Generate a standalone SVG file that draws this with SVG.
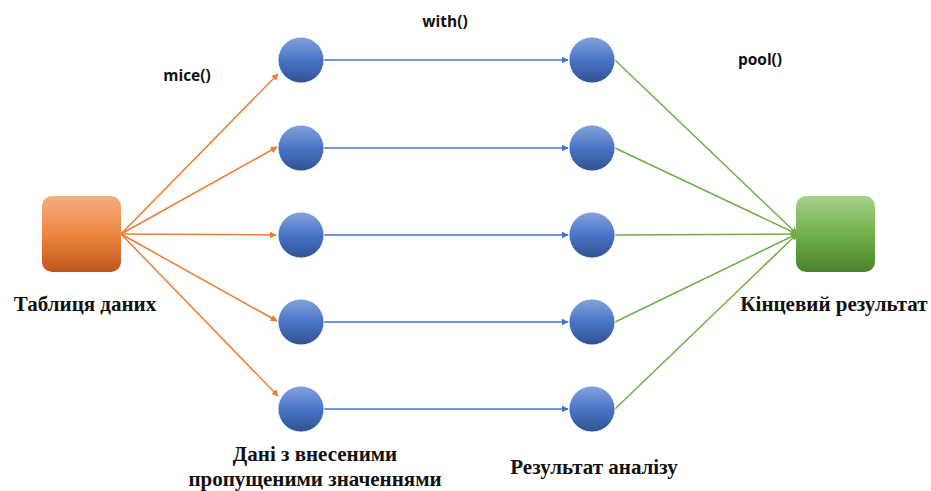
<svg xmlns="http://www.w3.org/2000/svg" width="931" height="491" viewBox="0 0 931 491">
  <defs>
    <linearGradient id="gOrange" x1="0" y1="0" x2="0" y2="1">
      <stop offset="0" stop-color="#F4AE80"/>
      <stop offset="0.5" stop-color="#EE8640"/>
      <stop offset="1" stop-color="#BE571B"/>
    </linearGradient>
    <linearGradient id="gBlue" x1="0" y1="0" x2="0" y2="1">
      <stop offset="0" stop-color="#84A3DC"/>
      <stop offset="0.5" stop-color="#4A74C6"/>
      <stop offset="1" stop-color="#2E5291"/>
    </linearGradient>
    <linearGradient id="gGreen" x1="0" y1="0" x2="0" y2="1">
      <stop offset="0" stop-color="#A6D28D"/>
      <stop offset="0.5" stop-color="#72B04A"/>
      <stop offset="1" stop-color="#4A832D"/>
    </linearGradient>
    <marker id="aOrange" viewBox="0 0 10 10" refX="9" refY="5" markerWidth="7" markerHeight="7" orient="auto" markerUnits="userSpaceOnUse">
      <path d="M0,0 L10,5 L0,10 z" fill="#ED7D31"/>
    </marker>
    <marker id="aBlue" viewBox="0 0 10 10" refX="9" refY="5" markerWidth="7" markerHeight="7" orient="auto" markerUnits="userSpaceOnUse">
      <path d="M0,0 L10,5 L0,10 z" fill="#4472C4"/>
    </marker>
    <marker id="aGreen" viewBox="0 0 10 10" refX="9" refY="5" markerWidth="7" markerHeight="7" orient="auto" markerUnits="userSpaceOnUse">
      <path d="M0,0 L10,5 L0,10 z" fill="#70AD47"/>
    </marker>
  </defs>
  <style>
    .eo { stroke: #ED7D31; stroke-width: 1.5; fill: none; marker-end: url(#aOrange); }
    .eb { stroke: #4472C4; stroke-width: 1.5; fill: none; marker-end: url(#aBlue); }
    .eg { stroke: #70AD47; stroke-width: 1.5; fill: none; marker-end: url(#aGreen); }
    .dot { fill: url(#gBlue); stroke: #ffffff; stroke-width: 0.8; }
    .fn { font-weight: bold; font-size: 15.5px; fill: #111; }
    .lbl { font-weight: bold; font-size: 21px; fill: #111; }
  </style>

  <rect width="931" height="491" fill="#ffffff"/>

  <g id="connectors">
    <!-- source table to imputed data sets -->
    <line class="eo" x1="121" y1="234" x2="278" y2="74"/>
    <line class="eo" x1="121" y1="234" x2="277" y2="147"/>
    <line class="eo" x1="121" y1="234" x2="276" y2="235"/>
    <line class="eo" x1="121" y1="234" x2="277" y2="321"/>
    <line class="eo" x1="121" y1="234" x2="278" y2="396"/>
    <!-- analysis on each imputed set -->
    <line class="eb" x1="324" y1="60" x2="568" y2="60"/>
    <line class="eb" x1="324" y1="148" x2="568" y2="148"/>
    <line class="eb" x1="324" y1="235" x2="568" y2="235"/>
    <line class="eb" x1="324" y1="322" x2="568" y2="322"/>
    <line class="eb" x1="324" y1="409" x2="568" y2="409"/>
    <!-- pooling into the final result -->
    <line class="eg" x1="615" y1="60" x2="797" y2="234"/>
    <line class="eg" x1="615" y1="148" x2="797" y2="234"/>
    <line class="eg" x1="615" y1="235" x2="797" y2="234"/>
    <line class="eg" x1="615" y1="322" x2="797" y2="234"/>
    <line class="eg" x1="615" y1="409" x2="797" y2="234"/>
  </g>

  <g id="table">
    <rect x="42" y="196" width="79" height="76" rx="10" fill="url(#gOrange)"/>
  </g>

  <g id="imputed">
    <circle class="dot" cx="301" cy="60" r="23"/>
    <circle class="dot" cx="301" cy="148" r="23"/>
    <circle class="dot" cx="301" cy="235" r="23"/>
    <circle class="dot" cx="301" cy="322" r="23"/>
    <circle class="dot" cx="301" cy="409" r="23"/>
  </g>

  <g id="analysis">
    <circle class="dot" cx="592" cy="60" r="23"/>
    <circle class="dot" cx="592" cy="148" r="23"/>
    <circle class="dot" cx="592" cy="235" r="23"/>
    <circle class="dot" cx="592" cy="322" r="23"/>
    <circle class="dot" cx="592" cy="409" r="23"/>
  </g>

  <g id="result">
    <rect x="796" y="196" width="79" height="76" rx="10" fill="url(#gGreen)"/>
  </g>

  <g id="labels">
    <g font-family="'Open Sans', 'Liberation Sans', sans-serif">
      <text class="fn" x="187" y="81" text-anchor="middle">mice()</text>
      <text class="fn" x="445" y="27" text-anchor="middle">with()</text>
      <text class="fn" x="760" y="65" text-anchor="middle">pool()</text>
    </g>
    <g font-family="'Liberation Serif', 'DejaVu Serif', serif">
      <text class="lbl" x="85" y="311" text-anchor="middle">Таблиця даних</text>
      <text class="lbl" x="834" y="311" text-anchor="middle">Кінцевий результат</text>
      <text class="lbl" x="315" y="461" text-anchor="middle">Дані з внесеними</text>
      <text class="lbl" x="315" y="486" text-anchor="middle">пропущеними значеннями</text>
      <text class="lbl" x="594" y="474" text-anchor="middle">Результат аналізу</text>
    </g>
  </g>
</svg>
